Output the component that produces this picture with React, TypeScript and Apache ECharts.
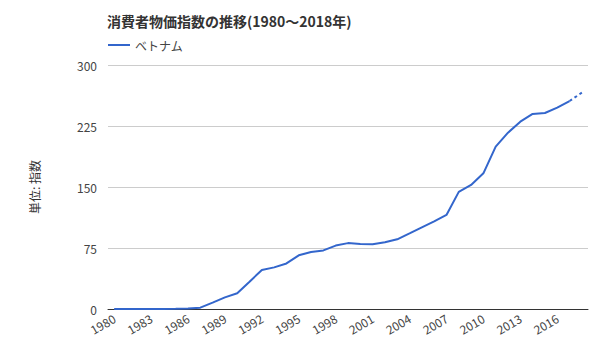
import React, { useEffect, useRef } from "react";
import * as echarts from "echarts";

const years: string[] = [];
for (let y = 1980; y <= 2018; y++) years.push(String(y));

const cpiValues: number[] = [
  0.1, 0.1, 0.1, 0.1, 0.1, 0.2, 0.6, 1.6, 7.8, 14.3,
  19.3, 33.6, 48.0, 51.2, 56.0, 66.0, 70.0, 72.0, 78.0, 81.0,
  80.0, 79.5, 82.0, 85.7, 93.0, 100.4, 107.8, 115.6, 144.0, 152.5,
  166.8, 199.6, 216.8, 230.3, 239.8, 241.0, 247.5, 255.7, 266.0,
];

const yTicks = [0, 75, 150, 225, 300];
const seriesName = "ベトナム";
const titleText = "消費者物価指数の推移(1980～2018年)";
const yAxisName = "単位: 指数";

const FONT = "'Noto Sans CJK JP', 'Noto Sans', sans-serif";

export default function App() {
  const ref = useRef<HTMLDivElement>(null);
  useEffect(() => {
    if (!ref.current) return;
    const chart = echarts.init(ref.current, undefined, { renderer: "svg" });
    const n = years.length;
    const solid = cpiValues.map((v, i) => (i <= n - 2 ? v : null));
    const dashed = cpiValues.map((v, i) => (i >= n - 2 ? v : null));
    chart.setOption({
      animation: false,
      textStyle: { fontFamily: FONT },
      title: {
        text: titleText,
        left: 102,
        top: 9,
        textStyle: { fontSize: 14, fontWeight: "bold", color: "#333", fontFamily: FONT },
      },
      legend: {
        data: [seriesName],
        left: 103,
        top: 34,
        itemWidth: 22,
        itemHeight: 2,
        itemGap: 6,
        icon: "rect",
        textStyle: { fontSize: 12, color: "#444", fontFamily: FONT },
      },
      grid: { left: 108, right: 12, top: 65, bottom: 51, containLabel: false },
      xAxis: {
        type: "category",
        data: years,
        boundaryGap: true,
        axisLine: { show: true, lineStyle: { color: "#333", width: 1 } },
        axisTick: { show: false },
        axisLabel: {
          interval: 2,
          rotate: 30,
          fontSize: 12,
          color: "#444",
          margin: 8,
          fontFamily: FONT,
        },
      },
      yAxis: {
        type: "value",
        min: 0,
        max: 300,
        interval: 75,
        name: yAxisName,
        nameLocation: "middle",
        nameGap: 68,
        nameRotate: 90,
        nameTextStyle: { fontSize: 12, color: "#333", fontFamily: FONT },
        axisLine: { show: false },
        axisTick: { show: false },
        splitLine: { lineStyle: { color: "#cccccc", width: 1 } },
        axisLabel: {
          fontSize: 12,
          color: "#444",
          margin: 11,
          fontFamily: FONT,
          formatter: (v: number) => (yTicks.includes(v) ? String(v) : ""),
        },
      },
      series: [
        {
          name: seriesName,
          type: "line",
          data: solid,
          showSymbol: false,
          symbol: "none",
          lineStyle: { color: "#3366cc", width: 2 },
          itemStyle: { color: "#3366cc" },
          connectNulls: false,
        },
        {
          name: seriesName + "_est",
          type: "line",
          data: dashed,
          showSymbol: false,
          symbol: "none",
          lineStyle: { color: "#3366cc", width: 2, type: [3, 3] },
          itemStyle: { color: "#3366cc" },
          connectNulls: false,
        },
      ],
    });
    return () => chart.dispose();
  }, []);
  return (
    <div
      ref={ref}
      style={{ position: "absolute", left: 0, top: 0, width: 600, height: 360 }}
    />
  );
}
